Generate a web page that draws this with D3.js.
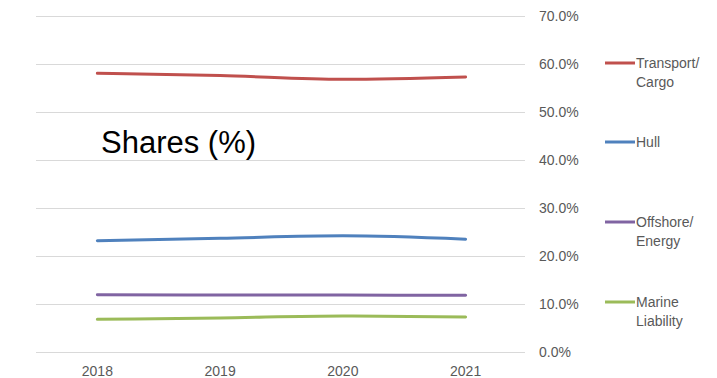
<!DOCTYPE html>
<html>
<head>
<meta charset="utf-8">
<script src="https://cdn.jsdelivr.net/npm/d3@7"></script>
<style>
  html, body { margin: 0; padding: 0; background: #fff; }
  svg { display: block; font-family: "Liberation Sans", Arial, sans-serif; }
</style>
</head>
<body>
<svg id="chart" width="717" height="378"></svg>
<script>
// Market shares by line of business, 2018–2021
const years = ["2018", "2019", "2020", "2021"];
const transportCargo = [58.05, 57.6, 56.8, 57.3];
const hull = [23.2, 23.7, 24.2, 23.5];
const offshoreEnergy = [11.95, 11.85, 11.85, 11.8];
const marineLiability = [6.8, 7.1, 7.5, 7.3];
const yTicks = [0, 10, 20, 30, 40, 50, 60, 70];

const series = [
  { name: ["Transport/", "Cargo"], values: transportCargo, color: "#C0504D", legendY: 63 },
  { name: ["Hull"], values: hull, color: "#4F81BD", legendY: 142 },
  { name: ["Offshore/", "Energy"], values: offshoreEnergy, color: "#8064A2", legendY: 222 },
  { name: ["Marine", "Liability"], values: marineLiability, color: "#9BBB59", legendY: 302 }
];

const svg = d3.select("#chart");
const plot = { left: 36, right: 527, top: 16, bottom: 352 };

const x = d3.scaleBand().domain(years).range([plot.left, plot.right]);
const y = d3.scaleLinear().domain([0, 70]).range([plot.bottom, plot.top]);

// horizontal gridlines
svg.append("g")
  .selectAll("line")
  .data(yTicks)
  .join("line")
  .attr("x1", plot.left)
  .attr("x2", 525)
  .attr("y1", d => Math.round(y(d)) + 0.5)
  .attr("y2", d => Math.round(y(d)) + 0.5)
  .attr("stroke", "#D9D9D9")
  .attr("stroke-width", 1);

// right-hand value axis labels
svg.append("g")
  .selectAll("text")
  .data(yTicks)
  .join("text")
  .attr("x", 539)
  .attr("y", d => y(d) + 1)
  .attr("dominant-baseline", "middle")
  .attr("font-size", 14)
  .attr("fill", "#595959")
  .text(d => d.toFixed(1) + "%");

// category labels
svg.append("g")
  .selectAll("text")
  .data(years)
  .join("text")
  .attr("x", d => x(d) + x.bandwidth() / 2)
  .attr("y", 376)
  .attr("text-anchor", "middle")
  .attr("font-size", 14)
  .attr("fill", "#595959")
  .text(d => d);

// series lines
const line = d3.line()
  .x((d, i) => x(years[i]) + x.bandwidth() / 2)
  .y(d => y(d))
  .curve(d3.curveMonotoneX);

svg.append("g")
  .selectAll("path")
  .data(series)
  .join("path")
  .attr("d", d => line(d.values))
  .attr("fill", "none")
  .attr("stroke", d => d.color)
  .attr("stroke-width", 3)
  .attr("stroke-linecap", "round");

// chart caption inside the plot
svg.append("text")
  .attr("x", 101)
  .attr("y", 153)
  .attr("font-size", 31)
  .attr("fill", "#000")
  .text("Shares (%)");

// legend
const legend = svg.append("g")
  .selectAll("g")
  .data(series)
  .join("g");

legend.append("line")
  .attr("x1", 605)
  .attr("x2", 635)
  .attr("y1", d => d.legendY)
  .attr("y2", d => d.legendY)
  .attr("stroke", d => d.color)
  .attr("stroke-width", 3);

legend.append("text")
  .attr("font-size", 14)
  .attr("fill", "#595959")
  .each(function (d) {
    d3.select(this)
      .selectAll("tspan")
      .data(d.name)
      .join("tspan")
      .attr("x", 636)
      .attr("y", (t, i) => d.legendY + 1 + i * 19)
      .attr("dominant-baseline", "middle")
      .text(t => t);
  });
</script>
</body>
</html>
